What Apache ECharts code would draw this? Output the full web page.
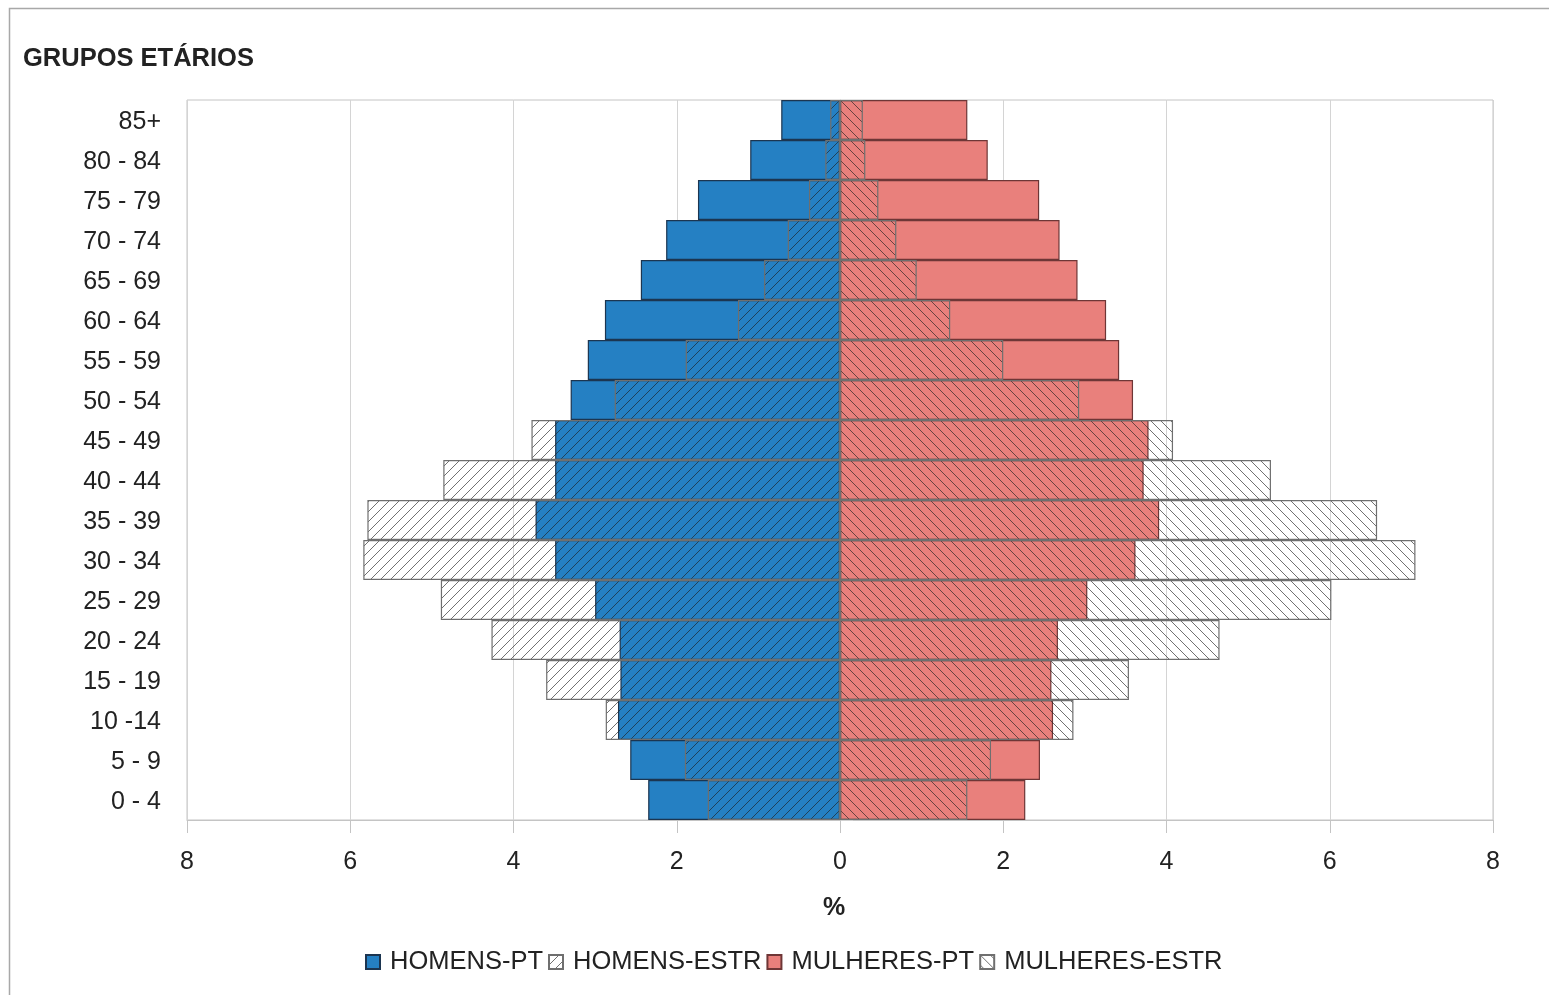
<!DOCTYPE html>
<html>
<head>
<meta charset="utf-8">
<script src="https://cdn.jsdelivr.net/npm/echarts@6/dist/echarts.min.js"></script>
<style>
html,body{margin:0;padding:0;background:#fff;}
#chart{width:1549px;height:995px;}
</style>
</head>
<body>
<div id="chart"></div>
<script>
const categories = ['0 - 4','5 - 9','10 -14','15 - 19','20 - 24','25 - 29','30 - 34','35 - 39','40 - 44','45 - 49','50 - 54','55 - 59','60 - 64','65 - 69','70 - 74','75 - 79','80 - 84','85+'];
// values in % (men shown to the left as negatives)
const homensPT   = [-2.35,-2.57,-2.72,-2.69,-2.70,-3.00,-3.49,-3.73,-3.49,-3.49,-3.30,-3.09,-2.88,-2.44,-2.13,-1.74,-1.10,-0.72];
const homensESTR = [-1.62,-1.90,-2.87,-3.60,-4.27,-4.89,-5.84,-5.79,-4.86,-3.78,-2.76,-1.89,-1.25,-0.93,-0.64,-0.38,-0.18,-0.12];
const mulheresPT   = [2.27,2.45,2.61,2.59,2.67,3.03,3.62,3.91,3.72,3.78,3.59,3.42,3.26,2.91,2.69,2.44,1.81,1.56];
const mulheresESTR = [1.56,1.85,2.86,3.54,4.65,6.02,7.05,6.58,5.28,4.08,2.93,2.00,1.35,0.94,0.69,0.47,0.31,0.28];
const seriesNames = ['HOMENS-PT','HOMENS-ESTR','MULHERES-PT','MULHERES-ESTR'];

function hatch(dir) {
  const s = 10;
  const c = document.createElement('canvas');
  c.width = s; c.height = s;
  const g = c.getContext('2d');
  g.strokeStyle = 'rgba(30,30,30,0.75)';
  g.lineWidth = 0.85;
  g.beginPath();
  if (dir === '/') {
    g.moveTo(0, s); g.lineTo(s, 0);
    g.moveTo(-2, 2); g.lineTo(2, -2);
    g.moveTo(s - 2, s + 2); g.lineTo(s + 2, s - 2);
  } else {
    g.moveTo(0, 0); g.lineTo(s, s);
    g.moveTo(-2, s - 2); g.lineTo(2, s + 2);
    g.moveTo(s - 2, -2); g.lineTo(s + 2, 2);
  }
  g.stroke();
  return c;
}

const FONT = "'Liberation Sans', Arial, sans-serif";
const chart = echarts.init(document.getElementById('chart'), null, {renderer: 'canvas'});

const option = {
  backgroundColor: '#fff',
  animation: false,
  title: {
    text: 'GRUPOS ETÁRIOS',
    left: 18, top: 41,
    textStyle: {fontFamily: FONT, fontSize: 25.5, fontWeight: 'bold', color: '#222'}
  },
  graphic: [{
    type: 'rect', silent: true, z: -10,
    shape: {x: 9.5, y: 8.5, width: 1600, height: 1100},
    style: {fill: 'none', stroke: '#a8a8a8', lineWidth: 1.5}
  }],
  legend: {
    left: 360, top: 944,
    itemWidth: 14, itemHeight: 14, itemGap: 5,
    icon: 'rect',
    data: seriesNames,
    textStyle: {fontFamily: FONT, fontSize: 25.5, color: '#222', padding: [0, 0, 0, 5]}
  },
  grid: {
    left: 187, right: 56, top: 100, bottom: 175,
    show: true, borderColor: '#c4c4c4', borderWidth: 1, backgroundColor: 'transparent'
  },
  xAxis: {
    type: 'value', min: -8, max: 8, interval: 2,
    name: '%', nameLocation: 'middle', nameGap: 76,
    nameTextStyle: {fontFamily: FONT, fontSize: 25, fontWeight: 'bold', color: '#222', padding: [0, 12, 0, 0]},
    axisLine: {show: true, lineStyle: {color: '#c4c4c4'}},
    axisTick: {show: true, length: 13, lineStyle: {color: '#c4c4c4'}},
    axisLabel: {margin: 30, fontFamily: FONT, fontSize: 25, color: '#222',
      formatter: v => String(Math.abs(v))},
    splitLine: {show: true, lineStyle: {color: '#d4d4d4'}}
  },
  yAxis: {
    type: 'category', data: categories,
    axisLine: {show: true, lineStyle: {color: '#c4c4c4'}},
    axisTick: {show: true, inside: true, length: 13, lineStyle: {color: '#d0d0d0'}},
    axisLabel: {margin: 26, fontFamily: FONT, fontSize: 25, color: '#222', verticalAlign: 'top', lineHeight: 5},
    splitLine: {show: false}
  },
  series: [
    {name: seriesNames[0], type: 'bar', data: homensPT, barGap: '-100%', barCategoryGap: 0,
      itemStyle: {color: '#2580c3', borderColor: '#1c3550', borderWidth: 1.2}},
    {name: seriesNames[1], type: 'bar', data: homensESTR, barGap: '-100%', barCategoryGap: 0,
      itemStyle: {color: {image: hatch('/'), repeat: 'repeat'}, borderColor: '#6f6f6f', borderWidth: 1.2}},
    {name: seriesNames[2], type: 'bar', data: mulheresPT, barGap: '-100%', barCategoryGap: 0,
      itemStyle: {color: '#e9807c', borderColor: '#6e3636', borderWidth: 1.2}},
    {name: seriesNames[3], type: 'bar', data: mulheresESTR, barGap: '-100%', barCategoryGap: 0,
      itemStyle: {color: {image: hatch('\\'), repeat: 'repeat'}, borderColor: '#6f6f6f', borderWidth: 1.2}}
  ]
};
chart.setOption(option);
</script>
</body>
</html>
